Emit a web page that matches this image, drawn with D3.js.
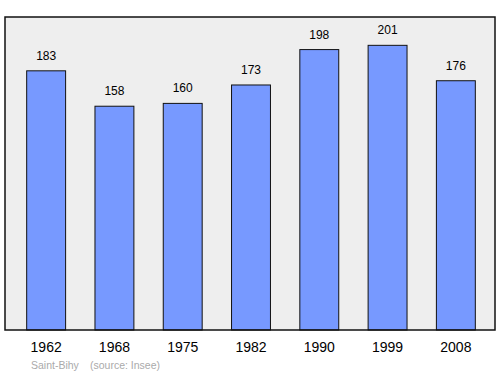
<!DOCTYPE html>
<html>
<head>
<meta charset="utf-8">
<script src="https://cdn.jsdelivr.net/npm/d3@7"></script>
<style>
  body { margin: 0; background: #fff; }
  svg { display: block; font-family: "Liberation Sans", Arial, sans-serif; }
</style>
</head>
<body>
<div id="chart"></div>
<script>
const years = ["1962", "1968", "1975", "1982", "1990", "1999", "2008"];
const population = [183, 158, 160, 173, 198, 201, 176];

const width = 500;
const height = 374;
const frame = { left: 5, top: 17, right: 495, bottom: 330 };

const svg = d3.select("#chart")
  .append("svg")
  .attr("width", width)
  .attr("height", height);

const x = d3.scaleBand()
  .domain(years)
  .range([12, 490])
  .paddingInner(0.43)
  .paddingOuter(0.215);

const y = d3.scaleLinear()
  .domain([0, 221])
  .range([frame.bottom, frame.top]);

// plot background
svg.append("rect")
  .attr("x", frame.left)
  .attr("y", frame.top)
  .attr("width", frame.right - frame.left)
  .attr("height", frame.bottom - frame.top)
  .attr("fill", "#eeeeee")
  .attr("stroke", "none");

const data = years.map((yr, i) => ({ year: yr, value: population[i] }));

svg.selectAll(".bar")
  .data(data)
  .enter()
  .append("rect")
  .attr("class", "bar")
  .attr("x", d => x(d.year))
  .attr("y", d => y(d.value))
  .attr("width", x.bandwidth())
  .attr("height", d => y(0) - y(d.value))
  .attr("fill", "#7799ff")
  .attr("stroke", "#111")
  .attr("stroke-width", 1);

svg.selectAll(".val")
  .data(data)
  .enter()
  .append("text")
  .attr("x", d => x(d.year) + x.bandwidth() / 2)
  .attr("y", d => y(d.value) - 11)
  .attr("text-anchor", "middle")
  .attr("font-size", 12)
  .attr("fill", "#000")
  .text(d => d.value);

// frame
svg.append("rect")
  .attr("x", frame.left)
  .attr("y", frame.top)
  .attr("width", frame.right - frame.left)
  .attr("height", frame.bottom - frame.top)
  .attr("fill", "none")
  .attr("stroke", "#111")
  .attr("stroke-width", 1.5);

// x axis labels
const xAxis = d3.axisBottom(x).tickSize(0).tickPadding(12);
svg.append("g")
  .attr("transform", `translate(0, ${frame.bottom})`)
  .call(xAxis)
  .call(g => g.select(".domain").remove())
  .selectAll("text")
  .attr("font-size", 14)
  .attr("font-family", "Liberation Sans, Arial, sans-serif")
  .attr("fill", "#000");

svg.append("text")
  .attr("x", 31)
  .attr("y", 369)
  .attr("font-size", 10.5)
  .attr("fill", "#aaaaaa")
  .text("Saint-Bihy");

svg.append("text")
  .attr("x", 90)
  .attr("y", 369)
  .attr("font-size", 10.5)
  .attr("fill", "#aaaaaa")
  .text("(source: Insee)");
</script>
</body>
</html>
